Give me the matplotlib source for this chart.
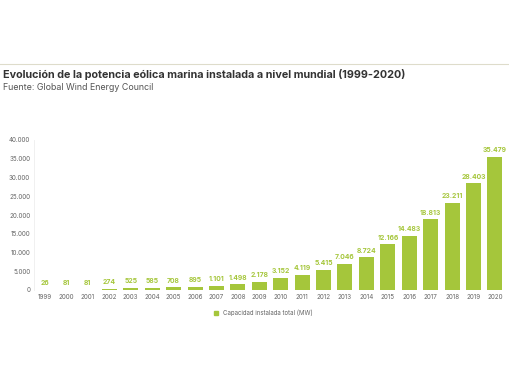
import matplotlib.pyplot as plt
import matplotlib as mpl
from matplotlib.lines import Line2D

mpl.rcParams['font.family'] = ['Inter', 'DejaVu Sans']

# === Data ===
years = [str(y) for y in range(1999, 2021)]
capacity = [26, 81, 81, 274, 525, 585, 708, 895, 1101, 1498, 2178, 3152,
            4119, 5415, 7046, 8724, 12166, 14483, 18813, 23211, 28403, 35479]
yticks = [0, 5000, 10000, 15000, 20000, 25000, 30000, 35000, 40000]

green = '#a5c63b'
grey = '#666666'


def fmt(v):
    return f"{v:,}".replace(",", ".")


# === Plotting ===
fig = plt.figure(figsize=(5.1, 3.82), dpi=100)
ax = fig.add_axes([34.3 / 510, 1 - 290 / 382, 471.4 / 510, 150 / 382])

x = range(len(years))
ax.bar(x, capacity, width=0.7, color=green, zorder=2)
for xi, v in zip(x, capacity):
    ax.text(xi, v + 1800, fmt(v), ha='center', va='center',
            fontsize=4.9, color=green, fontweight='bold')

ax.set_xlim(-0.5, len(years) - 0.5)
ax.set_ylim(0, 40000)
ax.set_xticks(list(x))
ax.set_xticklabels(years, fontsize=4.5, color=grey)
ax.set_yticks(yticks)
ax.set_yticklabels([fmt(t) for t in yticks], fontsize=4.5, color=grey)
ax.tick_params(length=0, pad=3)
for s in ['top', 'right', 'bottom']:
    ax.spines[s].set_visible(False)
ax.spines['left'].set_color('#eeeeee')
ax.spines['left'].set_linewidth(0.6)

# legend
handle = Line2D([], [], marker='s', linestyle='', color=green, markersize=3)
fig.legend([handle], ['Capacidad instalada total (MW)'], loc='center left',
           bbox_to_anchor=(204 / 510, 1 - 313 / 382), frameon=False,
           fontsize=4.4, handletextpad=0.2, labelcolor=grey)

# titles
fig.add_artist(Line2D([0, 1], [1 - 64 / 382] * 2, color='#dedccb', lw=0.8))
fig.text(3 / 510, 1 - 74 / 382, 'Evolución de la potencia eólica marina instalada a nivel mundial (1999-2020)',
         fontsize=7.8, fontweight='bold', color='#333333', va='center')
fig.text(3 / 510, 1 - 87 / 382, 'Fuente: Global Wind Energy Council',
         fontsize=6.4, color='#555555', va='center')

plt.savefig('out.png', dpi=100)
